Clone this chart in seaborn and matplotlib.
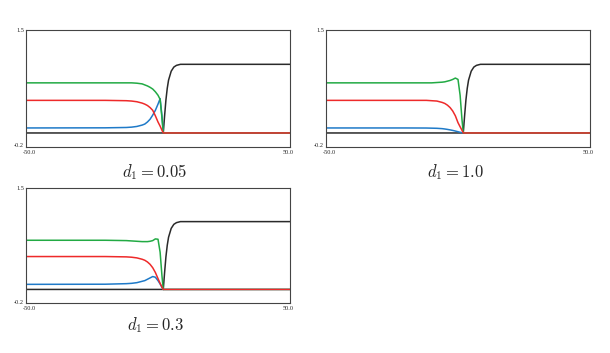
import numpy as np
import pandas as pd
import matplotlib
matplotlib.use("Agg")
import matplotlib.pyplot as plt
import matplotlib.transforms as mtransforms
import seaborn as sns

sns.set_style("white")
plt.rcParams["mathtext.fontset"] = "cm"
plt.rcParams["font.family"] = ["Liberation Serif", "DejaVu Serif"]

# sample positions along x
x = [-50, -20, -12, -10, -8, -6, -5, -4, -3, -2, -1, 0, 0.8, 1.5, 2.0,
     2.5, 3.0, 3.5, 4.0, 5.0, 6.0, 7.0, 8.5, 10, 50]

black = [0, 0, 0, 0, 0, 0, 0, 0, 0, 0, 0, 0, 0, 0, 0,
         0.25, 0.48, 0.65, 0.77, 0.90, 0.96, 0.985, 1.0, 1.0, 1.0]

zeros_tail = [0] * 10

# panel d1 = 0.05
green_a = [0.73, 0.73, 0.73, 0.73, 0.725, 0.715, 0.70, 0.685, 0.665, 0.64, 0.60, 0.55, 0.49, 0.22, 0] + zeros_tail
red_a = [0.475, 0.475, 0.47, 0.465, 0.455, 0.435, 0.42, 0.40, 0.37, 0.33, 0.25, 0.16, 0.10, 0.04, 0] + zeros_tail
blue_a = [0.073, 0.075, 0.08, 0.085, 0.095, 0.115, 0.13, 0.16, 0.20, 0.26, 0.33, 0.42, 0.50, 0.25, 0] + zeros_tail

# panel d1 = 1.0
green_b = [0.73, 0.73, 0.73, 0.73, 0.735, 0.74, 0.745, 0.755, 0.765, 0.78, 0.80, 0.78, 0.55, 0.20, 0] + zeros_tail
red_b = [0.475, 0.475, 0.475, 0.47, 0.465, 0.445, 0.43, 0.405, 0.37, 0.32, 0.25, 0.15, 0.09, 0.04, 0] + zeros_tail
blue_b = [0.073, 0.073, 0.072, 0.07, 0.068, 0.063, 0.058, 0.052, 0.045, 0.037, 0.028, 0.018, 0.01, 0.004, 0] + zeros_tail

# panel d1 = 0.3
green_c = [0.725, 0.725, 0.72, 0.715, 0.71, 0.705, 0.705, 0.705, 0.71, 0.72, 0.745, 0.74, 0.55, 0.20, 0] + zeros_tail
red_c = [0.485, 0.485, 0.48, 0.475, 0.465, 0.445, 0.43, 0.405, 0.37, 0.32, 0.25, 0.16, 0.09, 0.035, 0] + zeros_tail
blue_c = [0.075, 0.077, 0.085, 0.09, 0.10, 0.12, 0.13, 0.15, 0.17, 0.19, 0.18, 0.13, 0.08, 0.03, 0] + zeros_tail

titles = ["$d_1 = 0.05$", "$d_1 = 1.0$", "$d_1 = 0.3$"]
panels = [(green_a, red_a, blue_a), (green_b, red_b, blue_b), (green_c, red_c, blue_c)]

palette = {"black": "#2a2a2a", "blue": "#1f7ac8", "green": "#22aa44", "red": "#ee2a2a"}
order = ["black", "blue", "green", "red"]

fig = plt.figure(figsize=(6.10, 3.53), dpi=100)
rects = [
    (26 / 610, 1 - 146.7 / 353, 264 / 610, 116.7 / 353),
    (326 / 610, 1 - 146.7 / 353, 264 / 610, 116.7 / 353),
    (26 / 610, 1 - 303 / 353, 264 / 610, 115.3 / 353),
]
title_pos = [(155 / 610, 1 - 172 / 353), (455 / 610, 1 - 172 / 353), (155 / 610, 1 - 325 / 353)]

for (g, r, b), rect, t, tp in zip(panels, rects, titles, title_pos):
    ax = fig.add_axes(rect)
    df = pd.concat([
        pd.DataFrame({"x": x, "y": black, "curve": "black"}),
        pd.DataFrame({"x": x, "y": b, "curve": "blue"}),
        pd.DataFrame({"x": x, "y": g, "curve": "green"}),
        pd.DataFrame({"x": x, "y": r, "curve": "red"}),
    ])
    sns.lineplot(data=df, x="x", y="y", hue="curve", hue_order=order, palette=palette,
                 ax=ax, legend=False, sort=False, estimator=None, linewidth=1.1)
    ax.set_xlim(-50, 50)
    ax.set_ylim(-0.2, 1.5)
    ax.set_xticks([-50, 50])
    ax.set_xticklabels(["-50.0", "50.0"])
    ax.set_yticks([-0.2, 1.5])
    ax.set_yticklabels(["-0.2", "1.5"])
    ax.tick_params(axis="x", length=0, labelsize=4.5, pad=2.2)
    ax.tick_params(axis="y", length=0, labelsize=4.5, pad=1.5)
    # nudge x tick labels slightly inward, as in the reference
    xl = ax.get_xticklabels()
    xl[0].set_transform(xl[0].get_transform() + mtransforms.ScaledTranslation(3 / 100, 0, fig.dpi_scale_trans))
    xl[1].set_transform(xl[1].get_transform() + mtransforms.ScaledTranslation(-2 / 100, 0, fig.dpi_scale_trans))
    yl = ax.get_yticklabels()
    yl[0].set_transform(yl[0].get_transform() + mtransforms.ScaledTranslation(0, 1.5 / 100, fig.dpi_scale_trans))
    ax.set_xlabel("")
    ax.set_ylabel("")
    for s in ax.spines.values():
        s.set_color("#444444")
        s.set_linewidth(0.8)
    fig.text(tp[0], tp[1], t, ha="center", va="center", fontsize=12)

fig.savefig("out.png", dpi=100)
